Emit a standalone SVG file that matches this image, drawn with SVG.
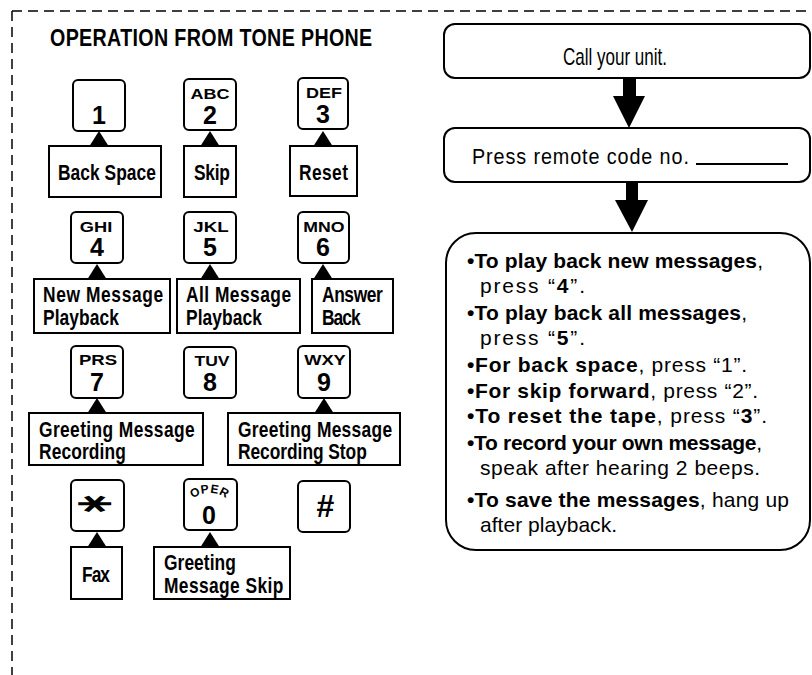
<svg xmlns="http://www.w3.org/2000/svg" width="812" height="675" viewBox="0 0 812 675">
<style>
text{font-family:"Liberation Sans",Arial,sans-serif;fill:#000}
.key{fill:#fff;stroke:#000;stroke-width:2}
.lbl{fill:#fff;stroke:#000;stroke-width:2}
.flow{fill:#fff;stroke:#000;stroke-width:2}
.b{font-weight:bold}
.lt{font-size:22px;font-weight:bold}
.let{font-size:15px;font-weight:bold;text-anchor:middle}
.dig{font-size:25px;font-weight:bold;text-anchor:middle}
.ft{font-size:21px}
.dash{fill:none;stroke:#000;stroke-width:1.5;stroke-dasharray:10 6}
</style>
<defs>
<path id="tri" d="M-9.5,0 L0,-15 L9.5,0 Z" fill="#000"/>
<path id="arc0" d="M188,503 A28,28 0 0 1 231,503" fill="none"/>
</defs>
<rect width="812" height="675" fill="#fff"/>
<g id="border">
<path class="dash" d="M12,11 H812"/>
<path class="dash" d="M12,11 V675"/>
</g>
<text id="title" transform="translate(50,46) scale(0.82,1)" font-size="24" font-weight="bold" textLength="393">OPERATION FROM TONE PHONE</text>

<g id="connectors">
<use href="#tri" x="99" y="146"/>
<use href="#tri" x="210" y="146"/>
<use href="#tri" x="323" y="146"/>
<use href="#tri" x="97" y="279"/>
<use href="#tri" x="210" y="279"/>
<use href="#tri" x="323" y="279"/>
<use href="#tri" x="97" y="413"/>
<use href="#tri" x="324" y="413"/>
<use href="#tri" x="97" y="547"/>
<use href="#tri" x="210" y="547"/>
<path d="M623,78 V96 H613 L629,128 L645,96 H636 V78 Z" fill="#000"/>
<path d="M626,182 V200 H615 L632,232 L648,200 H638 V182 Z" fill="#000"/>
</g>

<g id="key1"><rect class="key" x="73" y="80" width="52" height="51" rx="5"/><text class="dig" x="99" y="124">1</text></g>
<g id="key2"><rect class="key" x="184" y="79" width="52" height="51" rx="5"/><text class="let" transform="translate(210,99) scale(1.2,1)">ABC</text><text class="dig" x="210" y="124">2</text></g>
<g id="key3"><rect class="key" x="298" y="78" width="50" height="51" rx="5"/><text class="let" transform="translate(324,98) scale(1.2,1)">DEF</text><text class="dig" x="323" y="123">3</text></g>

<g id="key4"><rect class="key" x="71" y="212" width="52" height="51" rx="5"/><text class="let" transform="translate(96,232) scale(1.22,1)">GHI</text><text class="dig" x="97" y="256">4</text></g>
<g id="key5"><rect class="key" x="184" y="212" width="52" height="51" rx="5"/><text class="let" transform="translate(211,232) scale(1.25,1)">JKL</text><text class="dig" x="210" y="256">5</text></g>
<g id="key6"><rect class="key" x="298" y="212" width="51" height="51" rx="5"/><text class="let" transform="translate(324,232) scale(1.18,1)">MNO</text><text class="dig" x="323" y="256">6</text></g>

<g id="key7"><rect class="key" x="71" y="346" width="52" height="52" rx="5"/><text class="let" transform="translate(98,365) scale(1.24,1)">PRS</text><text class="dig" x="97" y="391">7</text></g>
<g id="key8"><rect class="key" x="184" y="347" width="52" height="51" rx="5"/><text class="let" transform="translate(212,366) scale(1.17,1)">TUV</text><text class="dig" x="210" y="391">8</text></g>
<g id="key9"><rect class="key" x="298" y="346" width="52" height="52" rx="5"/><text class="let" transform="translate(325,365) scale(1.22,1)">WXY</text><text class="dig" x="324" y="391">9</text></g>

<g id="keystar"><rect class="key" x="71" y="480" width="53" height="51" rx="5"/><text x="0" y="0" font-family="DejaVu Sans,sans-serif" font-size="42" font-weight="bold" text-anchor="middle" dominant-baseline="central" transform="translate(97,504) rotate(90) scale(0.62,1.2)">∗</text></g>
<g id="key0"><rect class="key" x="184" y="479" width="53" height="51" rx="5"/><text font-size="12" font-weight="bold" letter-spacing="0.5"><textPath href="#arc0" startOffset="50%" text-anchor="middle">OPER</textPath></text><text class="dig" x="209" y="524">0</text></g>
<g id="keyhash"><rect class="key" x="298" y="481" width="52" height="51" rx="5"/><text x="325" y="517" font-size="32" font-weight="bold" font-style="italic" text-anchor="middle">#</text></g>

<g id="lbl-backspace"><rect class="lbl" x="49" y="146" width="112" height="51"/><text class="lt" transform="translate(58,180) scale(0.79,1)" textLength="124">Back Space</text></g>
<g id="lbl-skip"><rect class="lbl" x="184" y="146" width="52" height="51"/><text class="lt" transform="translate(194,180) scale(0.79,1)" textLength="45.5">Skip</text></g>
<g id="lbl-reset"><rect class="lbl" x="290" y="146" width="67" height="50"/><text class="lt" transform="translate(299,180) scale(0.79,1)" textLength="62">Reset</text></g>

<g id="lbl-newmsg"><rect class="lbl" x="34" y="279" width="136" height="54"/><text class="lt" transform="translate(43,302) scale(0.79,1)" textLength="152">New Message</text><text class="lt" transform="translate(43,325) scale(0.79,1)" textLength="96">Playback</text></g>
<g id="lbl-allmsg"><rect class="lbl" x="177" y="279" width="123" height="54"/><text class="lt" transform="translate(186,302) scale(0.79,1)" textLength="133">All Message</text><text class="lt" transform="translate(186,325) scale(0.79,1)" textLength="96">Playback</text></g>
<g id="lbl-answer"><rect class="lbl" x="312" y="279" width="81" height="54"/><text class="lt" transform="translate(322,302) scale(0.79,1)" textLength="77">Answer</text><text class="lt" transform="translate(322,325) scale(0.79,1)" textLength="49">Back</text></g>

<g id="lbl-greetrec"><rect class="lbl" x="29" y="413" width="174" height="52"/><text class="lt" transform="translate(39,437) scale(0.79,1)" textLength="197">Greeting Message</text><text class="lt" transform="translate(39,459) scale(0.79,1)" textLength="110">Recording</text></g>
<g id="lbl-greetstop"><rect class="lbl" x="228" y="413" width="172" height="52"/><text class="lt" transform="translate(238,437) scale(0.79,1)" textLength="195">Greeting Message</text><text class="lt" transform="translate(238,459) scale(0.79,1)" textLength="163">Recording Stop</text></g>

<g id="lbl-fax"><rect class="lbl" x="71" y="547" width="51" height="52"/><text class="lt" transform="translate(82,582) scale(0.79,1)" textLength="35.5">Fax</text></g>
<g id="lbl-greetskip"><rect class="lbl" x="154" y="547" width="136" height="52"/><text class="lt" transform="translate(164,570) scale(0.79,1)" textLength="91">Greeting</text><text class="lt" transform="translate(164,593) scale(0.79,1)" textLength="151">Message Skip</text></g>

<g id="step1"><rect class="flow" x="444" y="24" width="366" height="54" rx="11"/><text transform="translate(563,65) scale(0.74,1)" font-size="23" textLength="140.5">Call your unit.</text></g>
<g id="step2"><rect class="flow" x="444" y="128" width="366" height="54" rx="11"/><text transform="translate(472,164) scale(0.9,1)" font-size="22" textLength="241">Press remote code no.</text><line x1="696" y1="164" x2="788" y2="164" stroke="#000" stroke-width="2"/></g>
<g id="step3"><rect class="flow" x="446" y="233" width="364" height="317" rx="30"/>
<text class="ft" x="467" y="268" textLength="296"><tspan class="b">•To play back new messages</tspan>,</text>
<text class="ft" x="480" y="293" textLength="105">press “<tspan class="b">4</tspan>”.</text>
<text class="ft" x="467" y="320" textLength="280"><tspan class="b">•To play back all messages</tspan>,</text>
<text class="ft" x="480" y="345" textLength="105">press “<tspan class="b">5</tspan>”.</text>
<text class="ft" x="467" y="372" textLength="280"><tspan class="b">•For back space</tspan>, press “1”.</text>
<text class="ft" x="467" y="398" textLength="291"><tspan class="b">•For skip forward</tspan>, press “2”.</text>
<text class="ft" x="467" y="423" textLength="300"><tspan class="b">•To reset the tape</tspan>, press “<tspan class="b">3</tspan>”.</text>
<text class="ft" x="467" y="450" textLength="295"><tspan class="b">•To record your own message</tspan>,</text>
<text class="ft" x="480" y="475" textLength="280">speak after hearing 2 beeps.</text>
<text class="ft" x="467" y="507" textLength="322"><tspan class="b">•To save the messages</tspan>, hang up</text>
<text class="ft" x="480" y="532" textLength="137">after playback.</text>
</g>
</svg>
